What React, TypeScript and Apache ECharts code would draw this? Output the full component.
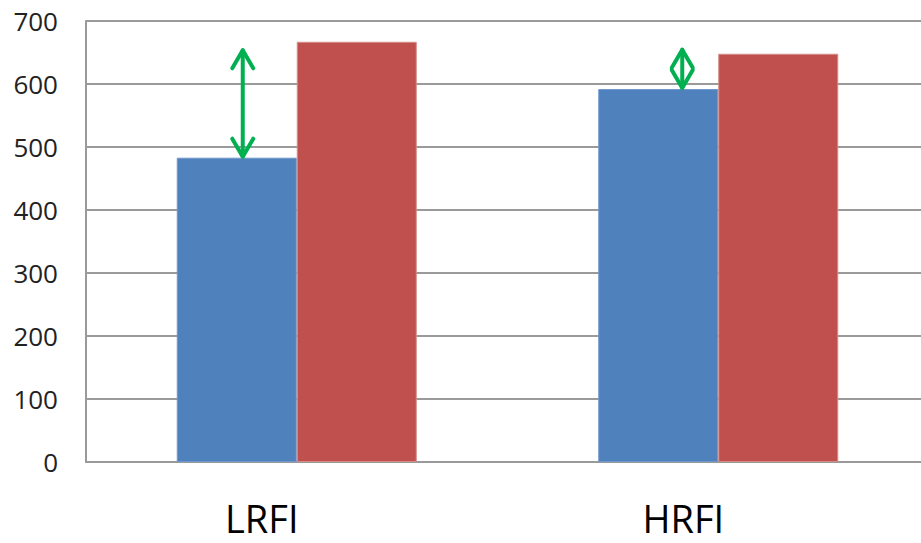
import React, { useEffect, useRef } from "react";
import * as echarts from "echarts";

// Categories and series values
const categories = ["LRFI", "HRFI"];
const blueValues = [483, 592];
const redValues = [667, 648];
const yTicks = { min: 0, max: 700, interval: 100 };

// Double-headed arrows: [category index, lower value, upper value]
const arrowSpans = [
  [0, 483, 655],
  [1, 592, 656],
];

// Horizontal placement of each arrow relative to its category centre (px)
const arrowShift = [-54, -36];

export default function App() {
  const ref = useRef<HTMLDivElement>(null);

  useEffect(() => {
    if (!ref.current) return;
    const chart = echarts.init(ref.current, undefined, { renderer: "svg" });
    const green = "#00b050";

    const renderArrow = (params: any, api: any) => {
      const idx = api.value(0);
      const lo = api.coord([idx, api.value(1)]);
      const hi = api.coord([idx, api.value(2)]);
      const x = lo[0] + arrowShift[params.dataIndex];
      const y1 = hi[1];
      const y2 = lo[1];
      const hw = 10.5;
      const hh = 19;
      const style = {
        stroke: green,
        lineWidth: 4,
        fill: "none",
        lineCap: "round",
        lineJoin: "round",
      };
      return {
        type: "group",
        children: [
          { type: "line", shape: { x1: x, y1: y1 + 1, x2: x, y2: y2 - 1 }, style },
          {
            type: "polyline",
            shape: { points: [[x - hw, y1 + hh], [x, y1 + 1], [x + hw, y1 + hh]] },
            style,
          },
          {
            type: "polyline",
            shape: { points: [[x - hw, y2 - hh], [x, y2 - 1], [x + hw, y2 - hh]] },
            style,
          },
        ],
      };
    };

    chart.setOption({
      animation: false,
      backgroundColor: "#ffffff",
      textStyle: { fontFamily: "Open Sans" },
      grid: { left: 86, right: 0, top: 21, bottom: 81, containLabel: false },
      xAxis: {
        type: "category",
        data: categories,
        axisLine: { show: true, lineStyle: { color: "#9a9a9a", width: 2 } },
        axisTick: { show: false },
        axisLabel: {
          color: "#000000",
          fontSize: 38,
          lineHeight: 38,
          fontFamily: "Open Sans",
          margin: 37,
          padding: [0, 70, 0, 0],
        },
      },
      yAxis: {
        type: "value",
        min: yTicks.min,
        max: yTicks.max,
        interval: yTicks.interval,
        axisLine: { show: true, lineStyle: { color: "#9a9a9a", width: 2 } },
        axisTick: { show: false },
        splitLine: { show: true, lineStyle: { color: "#9a9a9a", width: 2 } },
        axisLabel: {
          color: "#222222",
          fontSize: 26,
          fontFamily: "Open Sans",
          margin: 28,
        },
      },
      series: [
        {
          type: "bar",
          data: blueValues,
          barWidth: 120,
          barGap: "0%",
          itemStyle: { color: "#4f81bd", borderColor: "#6f97cc", borderWidth: 1 },
          z: 2,
        },
        {
          type: "bar",
          data: redValues,
          barWidth: 120,
          barGap: "0%",
          itemStyle: { color: "#c0504d", borderColor: "#d58b89", borderWidth: 1 },
          z: 2,
        },
        {
          type: "custom",
          data: arrowSpans,
          renderItem: renderArrow,
          z: 5,
          silent: true,
        },
      ],
    });

    return () => chart.dispose();
  }, []);

  // The plot runs slightly past the right edge of the visible frame
  return (
    <div style={{ width: 921, height: 543, position: "absolute", left: 0, top: 0, overflow: "hidden" }}>
      <div ref={ref} style={{ width: 929, height: 543 }} />
    </div>
  );
}
